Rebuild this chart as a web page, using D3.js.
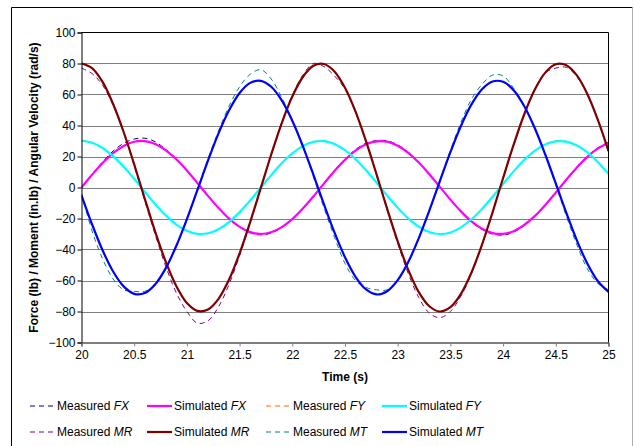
<!DOCTYPE html>
<html><head><meta charset="utf-8">
<script src="https://cdn.jsdelivr.net/npm/d3@7"></script>
<style>
html,body{margin:0;padding:0;background:#fff;}
svg{display:block;font-family:"Liberation Sans",Arial,sans-serif;}
</style></head>
<body><svg id="c" width="634" height="446"></svg>
<script>
// time samples (s)
const time = d3.range(0, 51).map(k => +(20 + k * 0.1).toFixed(1));
const xTicks = [20, 20.5, 21, 21.5, 22, 22.5, 23, 23.5, 24, 24.5, 25];
const yTicks = [-100, -80, -60, -40, -20, 0, 20, 40, 60, 80, 100];

const measuredFX = [0, 8.5, 16.5, 23.5, 28.5, 31.3, 31.8, 29.5, 24.5, 18.5, 11.2, 3, -5.5, -13.3, -20.3, -25.6, -29.2, -30.6, -29.4, -25.8, -20.4, -13.5, -5.6, 2.7, 10.9, 18.3, 24.5, 28.6, 30.3, 30.1, 27.5, 22.8, 16.3, 8.7, 0.4, -7.9, -15.6, -22.2, -27.1, -30.0, -30.7, -28.8, -24.5, -18.6, -11.4, -3.3, 5.1, 13.2, 20.3, 25.6, 29.2];
const simulatedFX = [0, 8.2, 15.8, 22.2, 26.8, 29.5, 29.9, 28.0, 24.0, 18.2, 11.0, 2.9, -5.4, -13.2, -20.1, -25.4, -28.8, -30.0, -28.9, -25.6, -20.4, -13.6, -5.8, 2.5, 10.6, 17.8, 23.8, 27.9, 29.8, 29.6, 27.0, 22.4, 16.1, 8.6, 0.4, -7.8, -15.4, -21.9, -26.6, -29.4, -29.9, -28.2, -24.2, -18.5, -11.3, -3.3, 5.0, 12.9, 19.8, 25.2, 28.7];
const measuredFY = [30.5, 29.2, 25.6, 20.4, 13.6, 5.4, -2.9, -11.0, -18.2, -24.0, -28.1, -30.1, -29.8, -27.2, -22.4, -16.0, -8.2, 0.2, 8.4, 15.9, 22.2, 26.9, 29.6, 30.2, 28.3, 24.2, 18.2, 11.0, 2.9, -5.5, -13.3, -20.2, -25.6, -29.1, -30.4, -29.3, -25.9, -20.6, -13.9, -6.2, 2.1, 10.4, 17.9, 23.9, 28.1, 30.1, 29.8, 27.2, 22.6, 16.2, 8.6];
const simulatedFY = [30.0, 28.9, 25.5, 20.2, 13.4, 5.6, -2.7, -10.8, -18.0, -23.9, -27.9, -29.9, -29.5, -26.9, -22.3, -15.9, -8.4, -0.2, 8.0, 15.6, 22.0, 26.7, 29.4, 29.9, 28.1, 24.1, 18.3, 11.1, 3.1, -5.2, -13.0, -19.9, -25.3, -28.7, -30.0, -29.0, -25.7, -20.5, -13.8, -6.0, 2.3, 10.4, 17.7, 23.6, 27.8, 29.8, 29.6, 27.1, 22.6, 16.3, 8.8];
const measuredMR = [77, 73.5, 66, 53, 35.5, 14, -8.5, -30.5, -51, -68, -80, -87.5, -86, -77, -62.5, -44, -23, -0.5, 21.5, 42, 59.5, 72.5, 80, 78, 72, 63.5, 48.5, 29.5, 8, -14.5, -36, -55.5, -71, -81, -84, -80, -70, -55.5, -37, -16, 6, 27.5, 47, 63.5, 74, 77, 77.5, 71.5, 60, 43.5, 24];
const simulatedMR = [80.0, 77.0, 68.1, 53.9, 35.8, 14.9, -7.2, -28.7, -48.0, -63.7, -74.5, -79.6, -78.7, -71.8, -59.4, -42.5, -22.4, -0.6, 21.3, 41.6, 58.7, 71.3, 78.5, 79.7, 74.9, 64.3, 48.9, 29.7, 8.3, -13.8, -34.8, -53.1, -67.5, -76.6, -80.0, -77.2, -68.6, -54.8, -36.8, -16.0, 6.1, 27.6, 47.1, 63.0, 74.1, 79.5, 78.9, 72.3, 60.2, 43.5, 23.5];
const measuredMT = [-4, -28, -46, -59, -66, -67, -67, -63, -52, -37.5, -20, -1, 18.5, 36.5, 52.5, 65, 73, 76, 70, 58, 43.5, 26.5, 7, -13, -32, -49, -60, -64.5, -66, -66, -60, -48.5, -33, -15, 4.5, 24, 42, 57, 66.5, 72.5, 72, 64, 53, 38.5, 21, 1.5, -18.5, -37, -52.5, -62, -66];
const simulatedMT = [-5.0, -23.7, -40.5, -54.2, -63.8, -68.6, -68.1, -62.4, -52.0, -37.6, -20.4, -1.6, 17.3, 34.9, 49.8, 61.0, 67.5, 68.8, 65.0, 56.2, 43.1, 26.7, 8.3, -10.8, -29.0, -45.0, -57.6, -65.8, -69.0, -66.9, -59.8, -48.1, -32.7, -14.9, 4.1, 22.8, 39.7, 53.6, 63.4, 68.4, 68.2, 62.8, 52.6, 38.4, 21.3, 2.6, -16.4, -34.1, -49.2, -60.5, -67.3];

const seriesNames = ["Measured FX", "Simulated FX", "Measured FY", "Simulated FY", "Measured MR", "Simulated MR", "Measured MT", "Simulated MT"];
const seriesValues = [measuredFX, simulatedFX, measuredFY, simulatedFY, measuredMR, simulatedMR, measuredMT, simulatedMT];
const seriesColors = ["#000080", "#FF00FF", "#FF6600", "#00FFFF", "#800080", "#800000", "#008080", "#0000FF"];
const seriesDashed = [true, false, true, false, true, false, true, false];

const svg = d3.select("#c");
const L = 81.5, R = 608.5, T = 32.5, B = 342.5;
const x = d3.scaleLinear().domain([20, 25]).range([L, R]);
const y = d3.scaleLinear().domain([-100, 100]).range([B, T]);

// outer chart border
svg.append("path").attr("d", `M11.5,450V7.5H632.5`).attr("fill", "none").attr("stroke", "#000").attr("stroke-width", 1);
svg.append("line").attr("x1", 632.5).attr("x2", 632.5).attr("y1", 7.5).attr("y2", 446).attr("stroke", "#b0b0b0");

// gridlines
svg.append("g").selectAll("line").data(yTicks.filter(d => d > -100 && d < 100)).join("line")
  .attr("x1", L).attr("x2", R).attr("y1", d => Math.round(y(d)) + 0.5).attr("y2", d => Math.round(y(d)) + 0.5)
  .attr("stroke", "#808080").attr("stroke-width", 1);

// series
const clip = svg.append("clipPath").attr("id", "pc").append("rect").attr("x", L).attr("y", T - 5).attr("width", R - L).attr("height", B - T + 10);
const line = d3.line().x((d, i) => x(time[i])).y(d => y(d)).curve(d3.curveCatmullRom.alpha(0.5));
const gS = svg.append("g").attr("clip-path", "url(#pc)");
seriesValues.forEach((vals, i) => {
  gS.append("path").attr("d", line(vals)).attr("fill", "none")
    .attr("stroke", seriesColors[i])
    .attr("stroke-width", seriesDashed[i] ? 1 : 2.2)
    .attr("stroke-dasharray", seriesDashed[i] ? "5,4" : null)
    .attr("stroke-linejoin", "round");
});

// plot border top & right
svg.append("path").attr("d", `M${L},${T}H${R}V${B}`).attr("fill", "none").attr("stroke", "#000");

// axes
const fmt = d => d < 0 ? "\u2212" + Math.abs(d) : String(d);
const yAxis = svg.append("g").attr("transform", `translate(${L},0)`)
  .call(d3.axisLeft(y).tickValues(yTicks).tickSize(4).tickPadding(2).tickFormat(fmt));
const xAxis = svg.append("g").attr("transform", `translate(0,${B})`)
  .call(d3.axisBottom(x).tickValues(xTicks).tickSize(4).tickPadding(4).tickFormat(d3.format("")));
[yAxis, xAxis].forEach(a => {
  a.select(".domain").attr("stroke", "#000");
  a.selectAll(".tick line").attr("stroke", "#000");
  a.selectAll("text").attr("font-size", 12).attr("fill", "#000").attr("font-family", "Liberation Sans, Arial, sans-serif");
});
xAxis.selectAll(".tick line").attr("stroke", "#808080");

// axis titles
svg.append("text").attr("x", (L + R) / 2).attr("y", 381).attr("text-anchor", "middle")
  .attr("font-size", 12).attr("font-weight", "bold").text("Time (s)");
svg.append("text").attr("transform", `translate(38,${(T + B) / 2}) rotate(-90)`).attr("text-anchor", "middle")
  .attr("font-size", 12).attr("font-weight", "bold").text("Force (lb) / Moment (in.lb) / Angular Velocity (rad/s)");

// legend
const legX = [30, 147, 266, 382], legY = [406, 432];
const lg = svg.append("g");
seriesNames.forEach((name, i) => {
  const col = i % 4, row = Math.floor(i / 4);
  const gx = legX[col], gy = legY[row];
  lg.append("line").attr("x1", gx).attr("x2", gx + 25).attr("y1", gy).attr("y2", gy)
    .attr("stroke", seriesColors[i]).attr("stroke-width", seriesDashed[i] ? 1 : 2.2)
    .attr("stroke-dasharray", seriesDashed[i] ? "5,4" : null);
  const parts = name.split(" ");
  const t = lg.append("text").attr("x", gx + 27).attr("y", gy + 4).attr("font-size", 12).attr("fill", "#000");
  t.append("tspan").text(parts[0] + " ");
  t.append("tspan").attr("font-style", "italic").text(parts[1]);
});
</script>
</body></html>
